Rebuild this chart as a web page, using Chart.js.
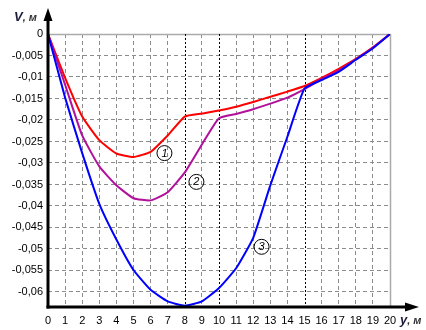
<!DOCTYPE html>
<html><head><meta charset="utf-8">
<script src="https://cdn.jsdelivr.net/npm/chart.js@4/dist/chart.umd.min.js"></script>
<style>html,body{margin:0;padding:0;background:#fff}#wrap{width:426px;height:330px}</style>
</head><body><div id="wrap"><canvas id="c" width="426" height="330"></canvas></div>
<script>
const xCats = [0,1,2,3,4,5,6,7,8,9,10,11,12,13,14,15,16,17,18,19,20];
const curve1 = [0,-0.0102,-0.0192,-0.0247,-0.0278,-0.0286,-0.0274,-0.0236,-0.0192,-0.0185,-0.0178,-0.0169,-0.0158,-0.0146,-0.0134,-0.0121,-0.0102,-0.0081,-0.0058,-0.0031,0];
const curve2 = [0,-0.0118,-0.0236,-0.0308,-0.0352,-0.0382,-0.0387,-0.0368,-0.0322,-0.0257,-0.0196,-0.0186,-0.0175,-0.0162,-0.0148,-0.0128,-0.0105,-0.0085,-0.0059,-0.0032,0];
const curve3 = [0,-0.0148,-0.0277,-0.0395,-0.0478,-0.0549,-0.0595,-0.0622,-0.0632,-0.0622,-0.0591,-0.0545,-0.0474,-0.0352,-0.0239,-0.0127,-0.0107,-0.0088,-0.0060,-0.0033,0];
const yTicks = [0,-0.005,-0.01,-0.015,-0.02,-0.025,-0.03,-0.035,-0.04,-0.045,-0.05,-0.055,-0.06];
const xTicks = [0,1,2,3,4,5,6,7,8,9,10,11,12,13,14,15,16,17,18,19,20];
const markX = [8,10,15];
const tagText = ['1','2','3'];
const tagX = [6.81,8.68,12.49];
const tagV = [-0.0277,-0.0344,-0.0495];

const toPts = arr => arr.map((v,i)=>({x:xCats[i],y:v}));
const fmt = v => v===0 ? '0' : String(v).replace('.',',');

const deco = {
  id:'deco',
  afterDatasetsDraw(chart){
    const ctx = chart.ctx, xs = chart.scales.x, ys = chart.scales.y;
    ctx.save();
    ctx.strokeStyle = '#000'; ctx.lineWidth = 1;
    ctx.font = 'italic 11px "Liberation Sans", Arial, sans-serif';
    ctx.textAlign = 'center'; ctx.textBaseline = 'middle'; ctx.fillStyle = '#000';
    for (let i=0;i<tagText.length;i++){
      const px = xs.getPixelForValue(tagX[i]), py = ys.getPixelForValue(tagV[i]);
      ctx.beginPath(); ctx.arc(px,py,7.5,0,Math.PI*2); ctx.stroke();
      ctx.fillText(tagText[i], px, py+0.5);
    }
    ctx.restore();
  },
  beforeDatasetsDraw(chart){
    const ctx = chart.ctx, xs = chart.scales.x, ys = chart.scales.y, a = chart.chartArea;
    ctx.save();
    // solid gray border lines at x=20 and v=0
    ctx.strokeStyle = '#aaa'; ctx.lineWidth = 1.5;
    ctx.beginPath();
    const xr = Math.round(xs.getPixelForValue(20))+0.5, yt = Math.round(ys.getPixelForValue(0))+0.5;
    ctx.moveTo(xr, a.bottom); ctx.lineTo(xr, yt);
    ctx.lineTo(a.left, yt); ctx.stroke();
    // dark dotted marker lines
    ctx.strokeStyle = '#000'; ctx.lineWidth = 1; ctx.setLineDash([2,2]);
    markX.forEach(m=>{
      const px = Math.round(xs.getPixelForValue(m))+0.5;
      ctx.beginPath(); ctx.moveTo(px,a.top); ctx.lineTo(px,a.bottom); ctx.stroke();
    });
    ctx.restore();
  },
  afterDraw(chart){
    const ctx = chart.ctx, a = chart.chartArea;
    ctx.save();
    ctx.fillStyle = '#000'; ctx.strokeStyle = '#000'; ctx.lineWidth = 3;
    // y axis with arrow
    ctx.beginPath(); ctx.moveTo(a.left, a.bottom+1.5); ctx.lineTo(a.left, 18); ctx.stroke();
    ctx.beginPath(); ctx.moveTo(a.left, 8); ctx.lineTo(a.left-4.5, 21); ctx.lineTo(a.left+4.5, 21); ctx.closePath(); ctx.fill();
    // x axis with arrow
    ctx.beginPath(); ctx.moveTo(a.left-1.5, a.bottom); ctx.lineTo(408, a.bottom); ctx.stroke();
    ctx.beginPath(); ctx.moveTo(419, a.bottom); ctx.lineTo(405, a.bottom-4.5); ctx.lineTo(405, a.bottom+4.5); ctx.closePath(); ctx.fill();
    // axis titles
    ctx.textBaseline = 'alphabetic'; ctx.textAlign = 'left';
    ctx.font = 'bold italic 13px "Liberation Sans", Arial, sans-serif';
    ctx.fillStyle = '#1b1b3a';
    ctx.fillText('V', 14, 21);
    const w1 = ctx.measureText('V').width;
    ctx.font = 'bold italic 11px "Liberation Sans", Arial, sans-serif';
    ctx.fillStyle = '#333';
    ctx.fillText(', м', 14+w1, 21);
    ctx.font = 'bold italic 13px "Liberation Sans", Arial, sans-serif';
    ctx.fillStyle = '#1b1b3a';
    ctx.fillText('y', 400, 324);
    const w2 = ctx.measureText('y').width;
    ctx.font = 'bold italic 11px "Liberation Sans", Arial, sans-serif';
    ctx.fillStyle = '#333';
    ctx.fillText(', м', 400+w2, 324);
    ctx.restore();
  }
};

new Chart(document.getElementById('c'), {
  type:'line',
  data:{ datasets:[
    {label:'1', data:toPts(curve1), borderColor:'#ff0000', borderWidth:2, pointRadius:0, tension:0.15, fill:false, order:3},
    {label:'2', data:toPts(curve2), borderColor:'#b0109a', borderWidth:2, pointRadius:0, tension:0.15, fill:false, order:2},
    {label:'3', data:toPts(curve3), borderColor:'#0000ff', borderWidth:2, pointRadius:0, tension:0.15, fill:false, order:1}
  ]},
  options:{
    responsive:false, animation:false, devicePixelRatio:1,
    layout:{padding:{top:34,right:36,left:0,bottom:0}},
    plugins:{legend:{display:false}, tooltip:{enabled:false}},
    scales:{
      x:{type:'linear', min:0, max:20,
        afterBuildTicks:s=>{s.ticks = xTicks.map(v=>({value:v}));},
        afterFit:s=>{s.height = 23;},
        grid:{color:c=> (c.tick && (markX.includes(c.tick.value)||c.tick.value===20)) ? 'rgba(0,0,0,0)' : '#8c8c8c', lineWidth:1, drawTicks:false},
        border:{display:false, dash:[4,3]},
        ticks:{color:'#000', padding:7, maxRotation:0, autoSkip:false, font:{family:'"Liberation Sans", Arial, sans-serif', size:11}}
      },
      y:{type:'linear', min:-0.0635, max:0,
        afterBuildTicks:s=>{s.ticks = yTicks.map(v=>({value:v}));},
        afterFit:s=>{s.width = 48;},
        grid:{color:c=> (c.tick && c.tick.value===0) ? 'rgba(0,0,0,0)' : '#8c8c8c', lineWidth:1, drawTicks:false},
        border:{display:false, dash:[4,3]},
        ticks:{color:'#000', padding:5, autoSkip:false, callback:v=>fmt(v), font:{family:'"Liberation Sans", Arial, sans-serif', size:11}}
      }
    }
  },
  plugins:[deco]
});
</script></body></html>
